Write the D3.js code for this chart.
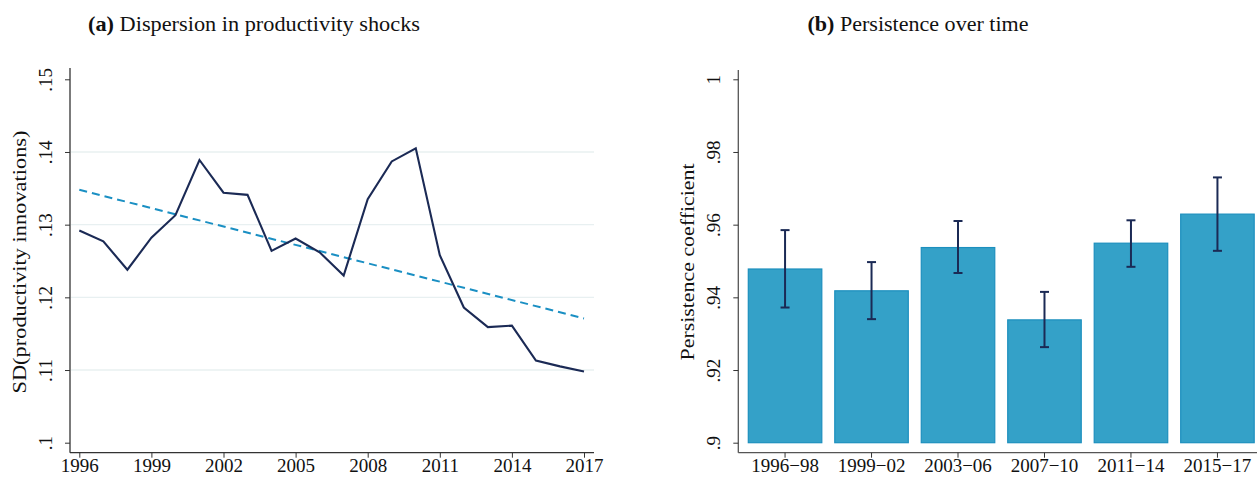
<!DOCTYPE html>
<html>
<head>
<meta charset="utf-8">
<script src="https://cdn.jsdelivr.net/npm/d3@7"></script>
<style>
  html, body { margin:0; padding:0; background:#fff; }
  svg text { font-family: "Liberation Serif", "DejaVu Serif", serif; fill:#111; }
</style>
</head>
<body>
<svg id="chart" width="1258" height="477"></svg>
<script>
// --- data: panel (a) ---
const years = d3.range(1996, 2018);
const sdShock = [0.1292, 0.1277, 0.1238, 0.1282, 0.1313, 0.1389, 0.1344, 0.1341, 0.1264, 0.1281,
                 0.1262, 0.1230, 0.1335, 0.1387, 0.1405, 0.1258, 0.1186, 0.1159, 0.1161, 0.1113,
                 0.1105, 0.1098];
const trendYears = [1996, 2017];
const trendVals = [0.1348, 0.1171];
const yearTicks = [1996, 1999, 2002, 2005, 2008, 2011, 2014, 2017];
const sdTicks = [0.10, 0.11, 0.12, 0.13, 0.14, 0.15];

// --- data: panel (b) ---
const periods = ['1996\u221298', '1999\u221202', '2003\u221206', '2007\u221210', '2011\u221214', '2015\u221217'];
const persist = [0.9478, 0.9418, 0.9537, 0.9338, 0.9549, 0.9629];
const ciLow  = [0.9372, 0.9340, 0.9467, 0.9263, 0.9484, 0.9528];
const ciHigh = [0.9585, 0.9497, 0.9610, 0.9415, 0.9612, 0.9730];
const persistTicks = [0.90, 0.92, 0.94, 0.96, 0.98, 1.00];

const svg = d3.select('#chart');
const fmt = v => (v === 1 ? '1' : d3.format('.2f')(v).replace(/^0/, '').replace(/0$/, ''));

// --- titles ---
function title(x, tag, rest, len){
  const t = svg.append('text').attr('x', x).attr('y', 31)
    .attr('text-anchor', 'middle').style('font-size', '22px')
    .attr('textLength', len).attr('lengthAdjust', 'spacingAndGlyphs');
  t.append('tspan').attr('font-weight', 'bold').text(tag);
  t.append('tspan').text(' ' + rest);
}
title(254, '(a)', 'Dispersion in productivity shocks', 332);
title(918, '(b)', 'Persistence over time', 221);

// ================= panel (a) =================
const xA = d3.scaleLinear().domain([1996, 2017]).range([79.3, 584]);
const yA = d3.scaleLinear().domain([0.10, 0.15]).range([442.7, 79.3]);
const gA = svg.append('g');

// gridlines at interior ticks
gA.selectAll('line.grid').data(sdTicks.slice(1, -1)).join('line')
  .attr('x1', 71).attr('x2', 594)
  .attr('y1', d => yA(d)).attr('y2', d => yA(d))
  .attr('stroke', '#e8f0f1').attr('stroke-width', 1.3);

// y axis
const axA = gA.append('g').attr('transform', 'translate(70,0)')
  .call(d3.axisLeft(yA).tickValues(sdTicks).tickFormat(fmt).tickSize(5).tickSizeOuter(0));
axA.select('.domain').attr('d', 'M0,68V452.7').attr('stroke', '#333').attr('stroke-width', 1.3);
axA.selectAll('.tick line').attr('stroke', '#333');
axA.selectAll('.tick text').attr('x', 0).attr('y', 0).attr('dy', 0)
  .attr('text-anchor', 'middle').style('font-size', '19px')
  .attr('transform', 'translate(-18,0) rotate(-90)');

// x axis
const axAx = gA.append('g').attr('transform', 'translate(0,452.7)')
  .call(d3.axisBottom(xA).tickValues(yearTicks).tickFormat(d3.format('d')).tickSize(5).tickSizeOuter(0));
axAx.select('.domain').attr('d', 'M70,0H594').attr('stroke', '#333').attr('stroke-width', 1.3);
axAx.selectAll('.tick line').attr('stroke', '#333');
axAx.selectAll('.tick text').attr('y', 6).style('font-size', '19px');

gA.append('text').attr('transform', 'translate(26,262) rotate(-90)')
  .attr('text-anchor', 'middle').style('font-size', '19px')
  .attr('textLength', 263).attr('lengthAdjust', 'spacingAndGlyphs')
  .text('SD(productivity innovations)');

// trend
gA.append('path')
  .datum(trendYears.map((y, i) => [y, trendVals[i]]))
  .attr('d', d3.line().x(d => xA(d[0])).y(d => yA(d[1])))
  .attr('fill', 'none').attr('stroke', '#1a8fc3').attr('stroke-width', 2)
  .attr('stroke-dasharray', '8,5');

// series
gA.append('path')
  .datum(years.map((y, i) => [y, sdShock[i]]))
  .attr('d', d3.line().x(d => xA(d[0])).y(d => yA(d[1])))
  .attr('fill', 'none').attr('stroke', '#1b2a55').attr('stroke-width', 2.1)
  .attr('stroke-linejoin', 'miter');

// ================= panel (b) =================
const xB = d3.scaleBand().domain(periods).range([748.3, 1254.2]).paddingInner(0.15).paddingOuter(0);
const yB = d3.scaleLinear().domain([0.90, 1.00]).range([442.7, 79.3]);
const gB = svg.append('g');

gB.selectAll('rect.bar').data(periods).join('rect')
  .attr('x', d => xB(d)).attr('width', xB.bandwidth())
  .attr('y', (d, i) => yB(persist[i]))
  .attr('height', (d, i) => yB(0.9) - yB(persist[i]))
  .attr('fill', '#34a1c8').attr('stroke', '#1c8fbe').attr('stroke-width', 1.2);

// error bars
const eb = gB.selectAll('g.eb').data(periods).join('g')
  .attr('transform', d => `translate(${xB(d) + xB.bandwidth() / 2},0)`);
eb.append('line').attr('y1', (d, i) => yB(ciLow[i])).attr('y2', (d, i) => yB(ciHigh[i]))
  .attr('stroke', '#1b2a55').attr('stroke-width', 2);
eb.append('line').attr('x1', -4.5).attr('x2', 4.5)
  .attr('y1', (d, i) => yB(ciLow[i])).attr('y2', (d, i) => yB(ciLow[i]))
  .attr('stroke', '#1b2a55').attr('stroke-width', 2);
eb.append('line').attr('x1', -4.5).attr('x2', 4.5)
  .attr('y1', (d, i) => yB(ciHigh[i])).attr('y2', (d, i) => yB(ciHigh[i]))
  .attr('stroke', '#1b2a55').attr('stroke-width', 2);

const axB = gB.append('g').attr('transform', 'translate(738.3,0)')
  .call(d3.axisLeft(yB).tickValues(persistTicks).tickFormat(fmt).tickSize(5).tickSizeOuter(0));
axB.select('.domain').attr('d', 'M0,70V452.7').attr('stroke', '#555').attr('stroke-width', 1.3);
axB.selectAll('.tick line').attr('stroke', '#333');
axB.selectAll('.tick text').attr('x', 0).attr('y', 0).attr('dy', 0)
  .attr('text-anchor', 'middle').style('font-size', '19px')
  .attr('transform', 'translate(-18,0) rotate(-90)');

const axBx = gB.append('g').attr('transform', 'translate(0,452.7)')
  .call(d3.axisBottom(xB).tickSize(5).tickSizeOuter(0));
axBx.select('.domain').attr('d', 'M738.3,0H1257').attr('stroke', '#555').attr('stroke-width', 1.3);
axBx.selectAll('.tick line').attr('stroke', '#333');
axBx.selectAll('.tick text').attr('y', 6).style('font-size', '19px');

gB.append('text').attr('transform', 'translate(694,262) rotate(-90)')
  .attr('text-anchor', 'middle').style('font-size', '19px')
  .attr('textLength', 197).attr('lengthAdjust', 'spacingAndGlyphs')
  .text('Persistence coefficient');
</script>
</body>
</html>
